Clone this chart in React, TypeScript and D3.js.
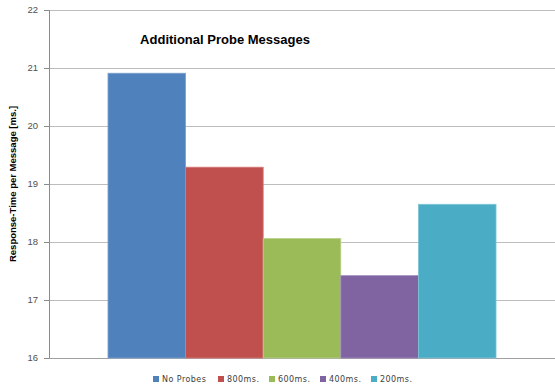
import React from "react";
import * as d3 from "d3";

const seriesNames = ["No Probes", "800ms.", "600ms.", "400ms.", "200ms."];
const seriesValues = [20.91, 19.29, 18.06, 17.42, 18.65];
const seriesColors = ["#4F81BD", "#C0504D", "#9BBB59", "#8064A2", "#4BACC6"];
const edgeColors = ["#7EA3D1", "#D47D7A", "#BAD18A", "#A08BBF", "#7DC5D8"];
const yTicks = [16, 17, 18, 19, 20, 21, 22];
const chartTitle = "Additional Probe Messages";
const yTitle = "Response-Time per Message [ms.]";

const W = 555;
const H = 385;
const plot = { left: 49, right: 555, top: 10, bottom: 358 };

export default function App() {
  const y = d3.scaleLinear().domain([16, 22]).range([plot.bottom, plot.top]);
  // single category group, centred in the plot with outer gaps
  const group = d3
    .scaleBand<string>()
    .domain(["g"])
    .range([plot.left, plot.right])
    .paddingOuter(0.152)
    .paddingInner(0);
  const gx = group("g")!;
  const gw = group.bandwidth();
  const x = d3.scaleBand<string>().domain(seriesNames).range([gx, gx + gw]);

  const legendX = [153, 218, 269, 320, 371];

  return (
    <svg
      width={W}
      height={H}
      style={{ position: "fixed", top: 0, left: 0, display: "block", background: "#fff" }}
    >
      {/* gridlines */}
      {yTicks.map((t) => (
        <line
          key={"g" + t}
          x1={plot.left}
          x2={plot.right}
          y1={Math.round(y(t)) + 0.5}
          y2={Math.round(y(t)) + 0.5}
          stroke={t === 16 ? "#a0a0a0" : "#bdbdbd"}
          strokeWidth={1}
        />
      ))}
      {/* bars */}
      {seriesNames.map((s, i) => (
        <rect
          key={s}
          x={x(s)!}
          y={y(seriesValues[i])}
          width={x.bandwidth()}
          height={y(16) - y(seriesValues[i])}
          fill={seriesColors[i]}
          stroke={edgeColors[i]}
          strokeWidth={0.8}
        />
      ))}
      {/* y axis */}
      <line x1={plot.left + 0.5} x2={plot.left + 0.5} y1={plot.top} y2={plot.bottom} stroke="#8c8c8c" />
      {yTicks.map((t) => (
        <g key={"t" + t}>
          <line
            x1={plot.left - 5}
            x2={plot.left}
            y1={Math.round(y(t)) + 0.5}
            y2={Math.round(y(t)) + 0.5}
            stroke="#8c8c8c"
          />
          <text
            x={38}
            y={y(t)}
            dy="0.35em"
            textAnchor="end"
            fontFamily="Liberation Sans, Arial, sans-serif"
            fontSize={9.5}
            fill="#505050"
          >
            {t}
          </text>
        </g>
      ))}
      <text
        transform={`translate(16,${(plot.top + plot.bottom) / 2}) rotate(-90)`}
        textAnchor="middle"
        fontFamily="Liberation Sans, Arial, sans-serif"
        fontSize={9.5}
        fontWeight="bold"
        fill="#000"
      >
        {yTitle}
      </text>
      <text
        x={225}
        y={44}
        textAnchor="middle"
        fontFamily="Liberation Sans, Arial, sans-serif"
        fontSize={13}
        fontWeight="bold"
        fill="#000"
      >
        {chartTitle}
      </text>
      {/* legend */}
      {seriesNames.map((s, i) => (
        <g key={"l" + s} transform={`translate(${legendX[i]},379)`}>
          <rect x={0} y={-3} width={6} height={6} fill={seriesColors[i]} />
          <text
            x={9}
            y={3}
            fontFamily="DejaVu Sans, sans-serif"
            fontSize={8}
            letterSpacing={0.45}
            fill="#404040"
          >
            {s}
          </text>
        </g>
      ))}
    </svg>
  );
}
